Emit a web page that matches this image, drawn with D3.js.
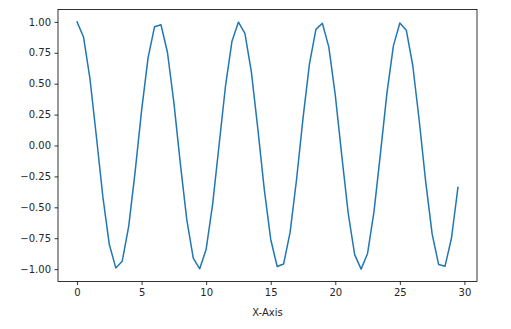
<!DOCTYPE html>
<html>
<head>
<meta charset="utf-8">
<script src="https://cdn.jsdelivr.net/npm/d3@7"></script>
<style>
  body { margin: 0; background: #fff; }
  svg { display: block; font-family: "DejaVu Sans", sans-serif; }
</style>
</head>
<body>
<svg id="chart" width="511" height="329"></svg>
<script>
// x positions and y values
const xValues = [0, 0.5, 1, 1.5, 2, 2.5, 3, 3.5, 4, 4.5, 5, 5.5, 6, 6.5, 7, 7.5, 8, 8.5, 9, 9.5,
  10, 10.5, 11, 11.5, 12, 12.5, 13, 13.5, 14, 14.5, 15, 15.5, 16, 16.5, 17, 17.5, 18, 18.5, 19, 19.5,
  20, 20.5, 21, 21.5, 22, 22.5, 23, 23.5, 24, 24.5, 25, 25.5, 26, 26.5, 27, 27.5, 28, 28.5, 29, 29.5];
const yValues = [1.000, 0.878, 0.540, 0.071, -0.416, -0.801, -0.990, -0.936, -0.654, -0.211,
  0.284, 0.709, 0.960, 0.977, 0.754, 0.347, -0.146, -0.602, -0.911, -0.997,
  -0.839, -0.476, 0.004, 0.483, 0.844, 0.998, 0.907, 0.595, 0.137, -0.355,
  -0.760, -0.979, -0.958, -0.703, -0.275, 0.220, 0.660, 0.939, 0.989, 0.796,
  0.408, -0.080, -0.548, -0.883, -1.000, -0.873, -0.533, -0.062, 0.424, 0.806,
  0.991, 0.933, 0.647, 0.202, -0.292, -0.715, -0.962, -0.976, -0.748, -0.339];
const xTicks = [0, 5, 10, 15, 20, 25, 30];
const yTicks = [-1, -0.75, -0.5, -0.25, 0, 0.25, 0.5, 0.75, 1];

const margin = { left: 58, right: 34, top: 9.5, bottom: 47.5 };
const width = 511, height = 329;
const svg = d3.select('#chart');

const x = d3.scaleLinear().domain([-1.475, 30.975]).range([margin.left, width - margin.right]);
const y = d3.scaleLinear().domain([-1.1, 1.1]).range([height - margin.bottom, margin.top]);

const fmt = d => d3.format('.2f')(d).replace('-', '\u2212');

// line
const points = xValues.map((v, i) => [v, yValues[i]]);
svg.append('path')
  .datum(points)
  .attr('fill', 'none')
  .attr('stroke', '#1f77b4')
  .attr('stroke-width', 1.5)
  .attr('stroke-linejoin', 'round')
  .attr('stroke-linecap', 'square')
  .attr('d', d3.line().x(d => x(d[0])).y(d => y(d[1])));

// frame
svg.append('rect')
  .attr('x', x.range()[0])
  .attr('y', y.range()[1])
  .attr('width', x.range()[1] - x.range()[0])
  .attr('height', y.range()[0] - y.range()[1])
  .attr('fill', 'none')
  .attr('stroke', '#000')
  .attr('stroke-width', 0.8);

const xAxis = svg.append('g')
  .attr('transform', `translate(0,${y.range()[0]})`)
  .call(d3.axisBottom(x).tickValues(xTicks).tickSize(3.5).tickPadding(3.5).tickSizeOuter(0));
const yAxis = svg.append('g')
  .attr('transform', `translate(${x.range()[0]},0)`)
  .call(d3.axisLeft(y).tickValues(yTicks).tickFormat(fmt).tickSize(3.5).tickPadding(3.5).tickSizeOuter(0));

[xAxis, yAxis].forEach(g => {
  g.select('.domain').remove();
  g.selectAll('.tick line').attr('stroke', '#000').attr('stroke-width', 0.8);
  g.selectAll('.tick text')
    .attr('fill', '#262626')
    .style('font-size', '10px')
    .style('font-family', '"DejaVu Sans", sans-serif');
});

svg.append('text')
  .attr('x', (x.range()[0] + x.range()[1]) / 2)
  .attr('y', 316)
  .attr('text-anchor', 'middle')
  .attr('fill', '#262626')
  .style('font-size', '10px')
  .text('X-Axis');
</script>
</body>
</html>
